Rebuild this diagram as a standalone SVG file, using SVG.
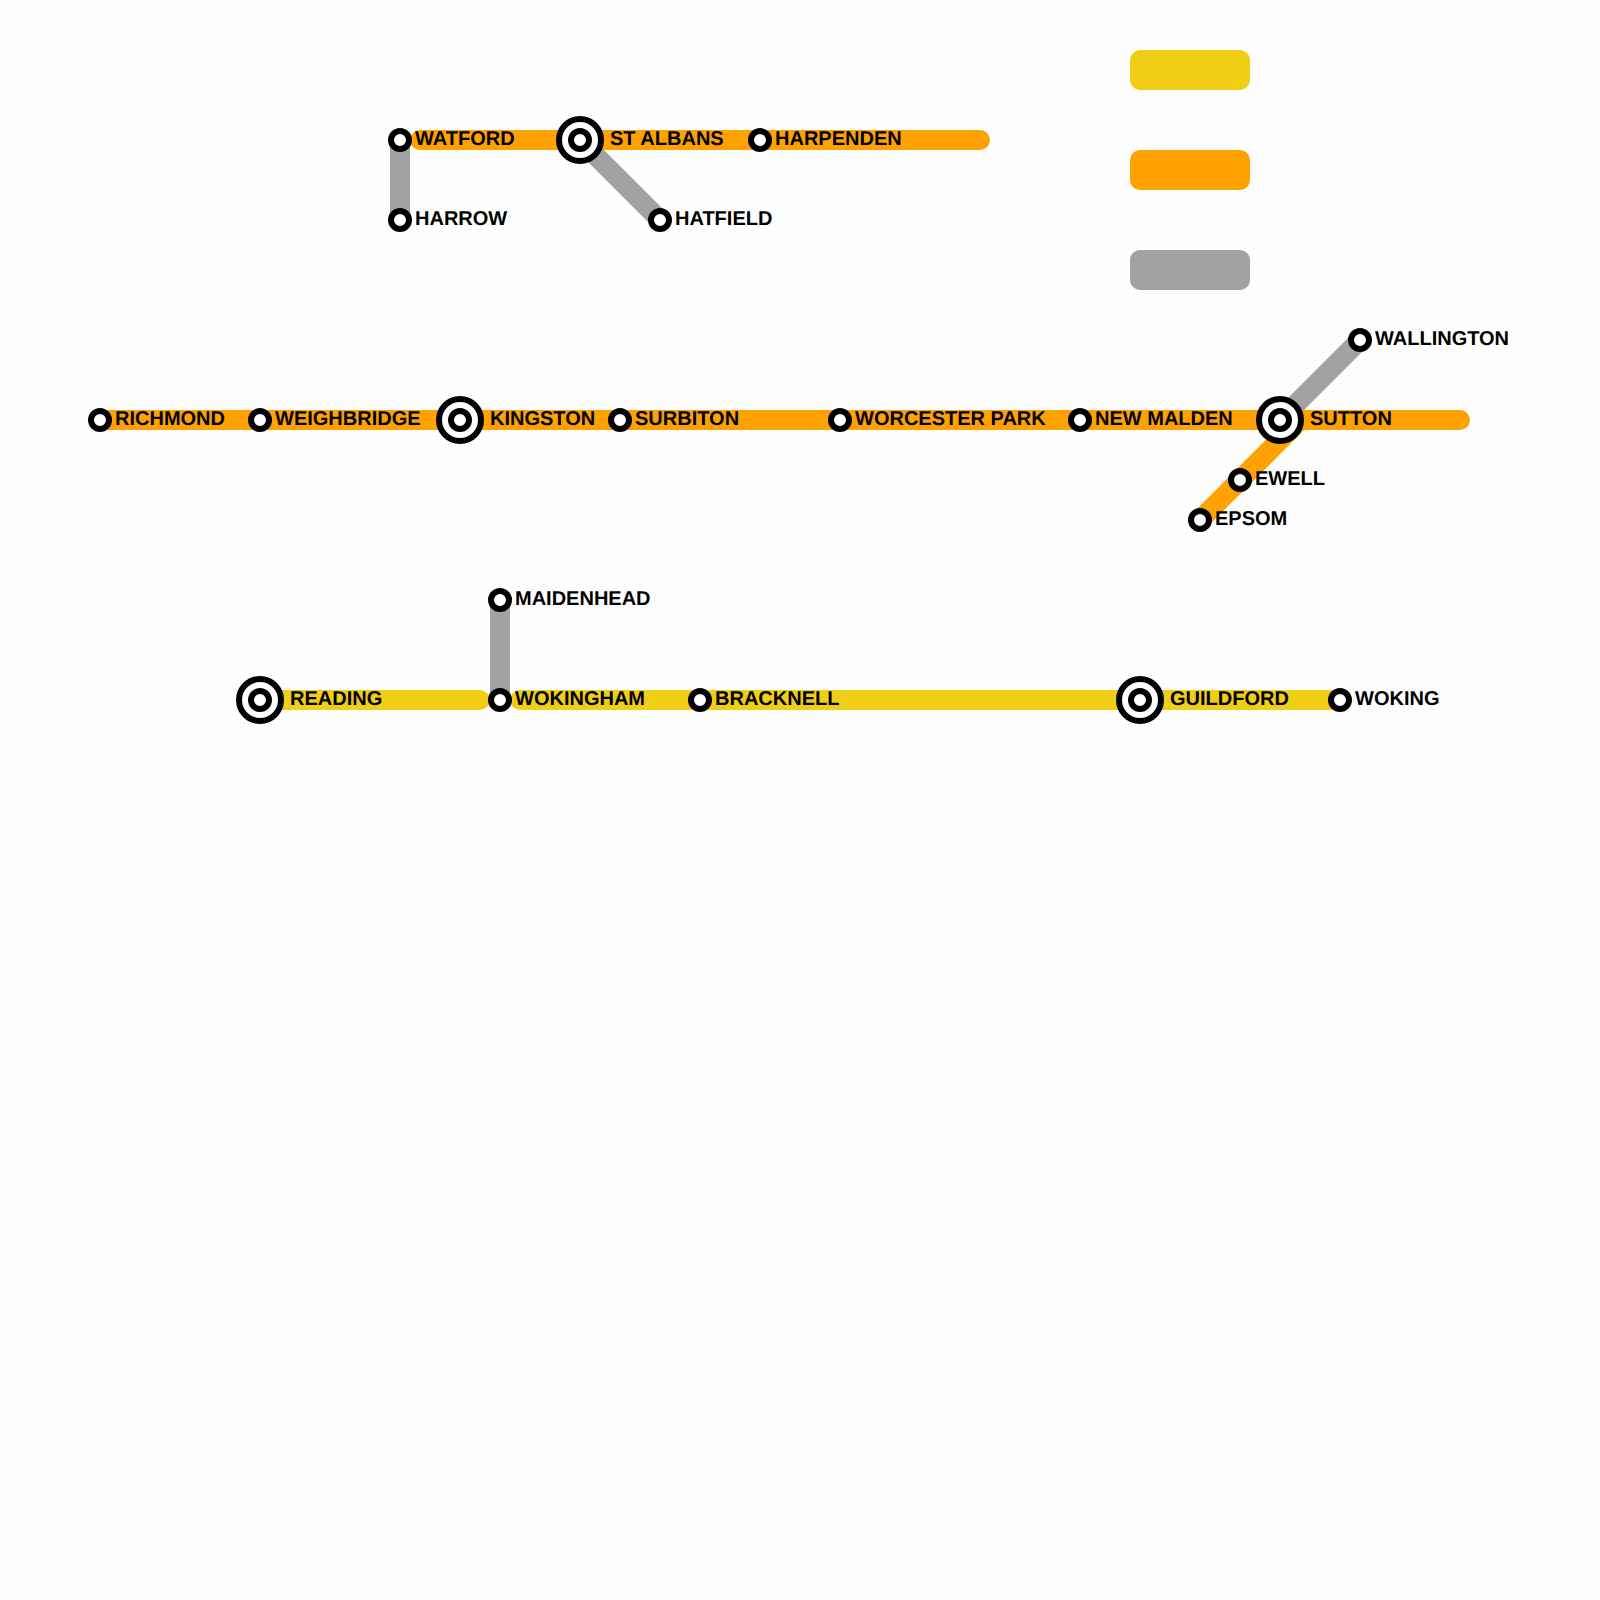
<svg xmlns="http://www.w3.org/2000/svg" width="1600" height="1600" viewBox="0 0 1600 1600">
<style>
text{font-family:"Liberation Sans",Arial,sans-serif;font-weight:bold;font-size:20px;fill:#000;text-rendering:geometricPrecision}
.l{fill:none;stroke-width:20;stroke-linecap:round}
.y{stroke:#f0ce15}.o{stroke:#ffa200}.g{stroke:#a2a2a2}
.c{fill:#fff;stroke:#000;stroke-width:6}
</style>
<rect width="1600" height="1600" fill="#fefefe"/>
<g id="legend">
<rect x="1130" y="50" width="120" height="40" rx="10" fill="#f0ce15"/>
<rect x="1130" y="150" width="120" height="40" rx="10" fill="#ffa200"/>
<rect x="1130" y="250" width="120" height="40" rx="10" fill="#a2a2a2"/>
</g>
<g id="connectors">
<path class="l g" d="M400 140V220M580 140L660 220M1280 420L1360 340M500 600V700"/>
<path class="l o" d="M420 140H980M100 420H1460M1300 420L1200 520"/>
<path class="l y" d="M260 700H480M520 700H1340"/>
</g>
<g id="watford"><circle class="c" cx="400" cy="140" r="9"/><text x="415" y="144.5">WATFORD</text></g>
<g id="harrow"><circle class="c" cx="400" cy="220" r="9"/><text x="415" y="224.5">HARROW</text></g>
<g id="st-albans"><circle class="c" cx="580" cy="140" r="21"/><circle class="c" cx="580" cy="140" r="9"/><text x="610" y="144.5">ST ALBANS</text></g>
<g id="hatfield"><circle class="c" cx="660" cy="220" r="9"/><text x="675" y="224.5">HATFIELD</text></g>
<g id="harpenden"><circle class="c" cx="760" cy="140" r="9"/><text x="775" y="144.5">HARPENDEN</text></g>
<g id="wallington"><circle class="c" cx="1360" cy="340" r="9"/><text x="1375" y="344.5">WALLINGTON</text></g>
<g id="richmond"><circle class="c" cx="100" cy="420" r="9"/><text x="115" y="424.5">RICHMOND</text></g>
<g id="weighbridge"><circle class="c" cx="260" cy="420" r="9"/><text x="275" y="424.5">WEIGHBRIDGE</text></g>
<g id="kingston"><circle class="c" cx="460" cy="420" r="21"/><circle class="c" cx="460" cy="420" r="9"/><text x="490" y="424.5">KINGSTON</text></g>
<g id="surbiton"><circle class="c" cx="620" cy="420" r="9"/><text x="635" y="424.5">SURBITON</text></g>
<g id="worcester-park"><circle class="c" cx="840" cy="420" r="9"/><text x="855" y="424.5">WORCESTER PARK</text></g>
<g id="new-malden"><circle class="c" cx="1080" cy="420" r="9"/><text x="1095" y="424.5">NEW MALDEN</text></g>
<g id="sutton"><circle class="c" cx="1280" cy="420" r="21"/><circle class="c" cx="1280" cy="420" r="9"/><text x="1310" y="424.5">SUTTON</text></g>
<g id="ewell"><circle class="c" cx="1240" cy="480" r="9"/><text x="1255" y="484.5">EWELL</text></g>
<g id="epsom"><circle class="c" cx="1200" cy="520" r="9"/><text x="1215" y="524.5">EPSOM</text></g>
<g id="maidenhead"><circle class="c" cx="500" cy="600" r="9"/><text x="515" y="604.5">MAIDENHEAD</text></g>
<g id="reading"><circle class="c" cx="260" cy="700" r="21"/><circle class="c" cx="260" cy="700" r="9"/><text x="290" y="704.5">READING</text></g>
<g id="wokingham"><circle class="c" cx="500" cy="700" r="9"/><text x="515" y="704.5">WOKINGHAM</text></g>
<g id="bracknell"><circle class="c" cx="700" cy="700" r="9"/><text x="715" y="704.5">BRACKNELL</text></g>
<g id="guildford"><circle class="c" cx="1140" cy="700" r="21"/><circle class="c" cx="1140" cy="700" r="9"/><text x="1170" y="704.5">GUILDFORD</text></g>
<g id="woking"><circle class="c" cx="1340" cy="700" r="9"/><text x="1355" y="704.5">WOKING</text></g>
</svg>
